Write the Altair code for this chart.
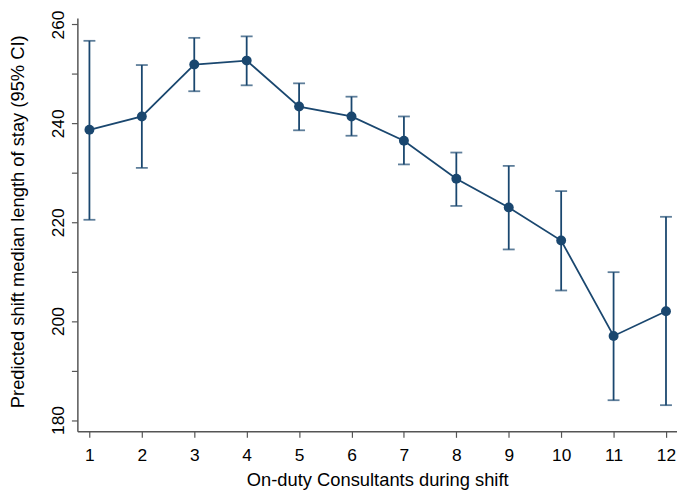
import altair as alt
import pandas as pd

consultants = [1, 2, 3, 4, 5, 6, 7, 8, 9, 10, 11, 12]
predicted = [238.7, 241.4, 251.9, 252.7, 243.4, 241.4, 236.5, 228.8, 223.0, 216.3, 197.0, 202.0]
ci_lower = [220.5, 231.0, 246.5, 247.7, 238.6, 237.5, 231.7, 223.3, 214.5, 206.2, 184.0, 183.0]
ci_upper = [256.7, 251.8, 257.3, 257.6, 248.1, 245.4, 241.4, 234.1, 231.4, 226.3, 209.9, 221.1]

df = pd.DataFrame({"x": consultants, "y": predicted, "lo": ci_lower, "hi": ci_upper})

navy = "#1a476f"
font = "Liberation Sans"

xscale = alt.Scale(domain=[0.77, 12.21], nice=False, zero=False)
yscale = alt.Scale(domain=[177.7, 261.3], nice=False, zero=False)

xaxis = alt.Axis(values=consultants, title="On-duty Consultants during shift", grid=False,
                 labelFont=font, titleFont=font, labelFontSize=17.5, titleFontSize=18.5,
                 titleFontWeight="normal", labelColor="#000", titleColor="#000",
                 domainColor="#555", tickColor="#555", tickSize=6, labelPadding=9,
                 titlePadding=7, domainWidth=1.5, tickWidth=1.2)
yaxis = alt.Axis(values=[180, 190, 200, 210, 220, 230, 240, 250, 260],
                 labelExpr="datum.value % 20 == 0 ? datum.label : ''",
                 title="Predicted shift median length of stay (95% CI)", grid=False,
                 labelFont=font, titleFont=font, labelFontSize=17.5, titleFontSize=18.5,
                 titleFontWeight="normal", labelColor="#000", titleColor="#000",
                 domainColor="#555", tickColor="#555", tickSize=6, labelAngle=270,
                 labelPadding=4, titleX=-60, titleY=205, titleAlign="center",
                 titleBaseline="middle", domainWidth=1.5, tickWidth=1.2)

base = alt.Chart(df)

err = base.mark_errorbar(ticks=alt.MarkConfig(size=12, color=navy, strokeWidth=1.8),
                         color=navy, thickness=1.8).encode(
    x=alt.X("x:Q", scale=xscale, axis=xaxis),
    y=alt.Y("lo:Q", scale=yscale, axis=yaxis),
    y2="hi:Q",
)

line = base.mark_line(color=navy, strokeWidth=1.8).encode(
    x=alt.X("x:Q", scale=xscale),
    y=alt.Y("y:Q", scale=yscale),
)

pts = base.mark_circle(color=navy, size=100, opacity=1).encode(
    x=alt.X("x:Q", scale=xscale),
    y=alt.Y("y:Q", scale=yscale),
)

chart = alt.layer(err, line, pts).properties(
    width=605, height=417,
    autosize=alt.AutoSizeParams(type="none"),
    padding={"left": 70, "top": 8, "right": 0, "bottom": 58},
).configure_view(stroke=None)

chart.save("out.html", embed_options={"renderer": "svg", "actions": False})
